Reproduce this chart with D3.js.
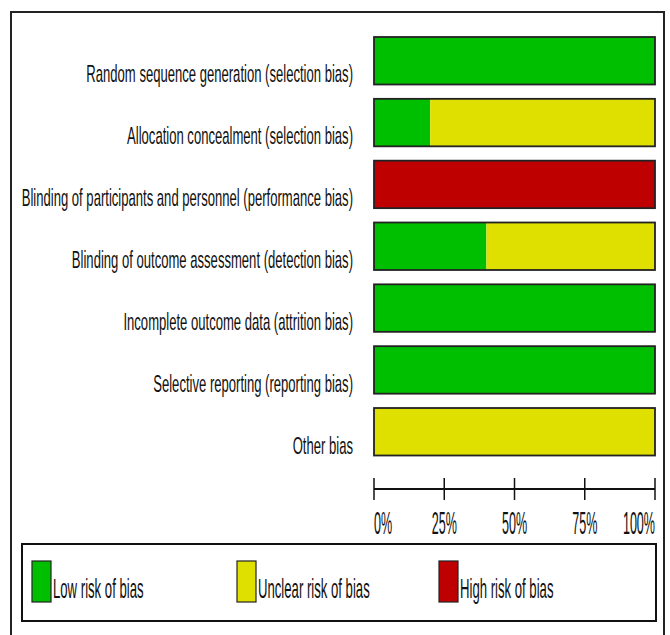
<!DOCTYPE html>
<html>
<head>
<meta charset="utf-8">
<script src="https://cdn.jsdelivr.net/npm/d3@7"></script>
<style>
  body { margin: 0; background: #fff; }
  text { font-family: "Liberation Sans", Arial, sans-serif; fill: #111; }
</style>
</head>
<body>
<div id="chart"></div>
<script>
// risk of bias summary, % of studies per domain
var domains = [
    "Random sequence generation (selection bias)",
    "Allocation concealment (selection bias)",
    "Blinding of participants and personnel (performance bias)",
    "Blinding of outcome assessment (detection bias)",
    "Incomplete outcome data (attrition bias)",
    "Selective reporting (reporting bias)",
    "Other bias"
];
var lowRisk     = [100, 20,   0, 40, 100, 100,   0];
var unclearRisk = [  0, 80,   0, 60,   0,   0, 100];
var highRisk    = [  0,  0, 100,  0,   0,   0,   0];
var tickValues  = [0, 25, 50, 75, 100];
var riskLevels  = ["Low risk of bias", "Unclear risk of bias", "High risk of bias"];

var colors = ["#00bf00", "#e0e000", "#bf0000"];
var keys = ["low", "unclear", "high"];

var width = 670, height = 635;

var svg = d3.select("#chart").append("svg")
    .attr("width", width)
    .attr("height", height);

// outer frame (bottom edge runs off the picture)
svg.append("rect")
    .attr("x", 11).attr("y", 12)
    .attr("width", 653).attr("height", 640)
    .attr("fill", "none")
    .attr("stroke", "#222")
    .attr("stroke-width", 2);

var rows = domains.map(function(d, i) {
    return { domain: d, low: lowRisk[i], unclear: unclearRisk[i], high: highRisk[i] };
});

var x = d3.scaleLinear().domain([0, 100]).range([374, 655]);
var y = d3.scaleBand().domain(domains).range([37, 455.5])
    .paddingInner(0.232).paddingOuter(0);
var color = d3.scaleOrdinal().domain(keys).range(colors);

var stack = d3.stack().keys(keys);
var series = stack(rows);

var layer = svg.append("g").selectAll("g")
    .data(series)
    .enter().append("g")
    .attr("fill", function(d) { return color(d.key); });

layer.selectAll("rect")
    .data(function(d) { return d.filter(function(s) { return s[1] > s[0]; }); })
    .enter().append("rect")
    .attr("x", function(d) { return x(d[0]); })
    .attr("y", function(d) { return y(d.data.domain); })
    .attr("width", function(d) { return x(d[1]) - x(d[0]); })
    .attr("height", y.bandwidth());

// bar outlines
svg.append("g").selectAll("rect")
    .data(domains)
    .enter().append("rect")
    .attr("x", x(0))
    .attr("y", function(d) { return y(d); })
    .attr("width", x(100) - x(0))
    .attr("height", y.bandwidth())
    .attr("fill", "none")
    .attr("stroke", "#222")
    .attr("stroke-width", 1.8);

// domain labels, squeezed sideways like the source
svg.append("g").selectAll("text")
    .data(domains)
    .enter().append("text")
    .attr("text-anchor", "end")
    .attr("font-size", "24px")
    .attr("transform", function(d) {
        return "translate(353," + (y(d) + y.bandwidth() - 2) + ") scale(0.545,1)";
    })
    .text(function(d) { return d; });

// axis
var axisY = 489;
var axis = svg.append("g");
axis.append("line")
    .attr("x1", x(0)).attr("x2", x(100))
    .attr("y1", axisY).attr("y2", axisY)
    .attr("stroke", "#111").attr("stroke-width", 2);
axis.selectAll(".tick")
    .data(tickValues)
    .enter().append("line")
    .attr("class", "tick")
    .attr("x1", function(d) { return x(d); })
    .attr("x2", function(d) { return x(d); })
    .attr("y1", axisY - 11).attr("y2", axisY + 11)
    .attr("stroke", "#111").attr("stroke-width", 1.5);
axis.selectAll(".tickLabel")
    .data(tickValues)
    .enter().append("text")
    .attr("class", "tickLabel")
    .attr("font-size", "31px")
    .attr("text-anchor", function(d, i) {
        return i == 0 ? "start" : (i == tickValues.length - 1 ? "end" : "middle");
    })
    .attr("transform", function(d) {
        return "translate(" + x(d) + ",534) scale(0.405,1)";
    })
    .text(function(d) { return d + "%"; });

// legend
svg.append("rect")
    .attr("x", 22).attr("y", 544)
    .attr("width", 634).attr("height", 77)
    .attr("fill", "none")
    .attr("stroke", "#111")
    .attr("stroke-width", 2);

var legendX = [32, 237, 439];
var legendRow = svg.selectAll(".legendRow")
    .data(riskLevels)
    .enter().append("g")
    .attr("class", "legendRow")
    .attr("transform", function(d, i) { return "translate(" + legendX[i] + ",561)"; });

legendRow.append("rect")
    .attr("width", 19)
    .attr("height", 41)
    .attr("fill", function(d, i) { return colors[i]; })
    .attr("stroke", "#222")
    .attr("stroke-width", 1.2);

legendRow.append("text")
    .attr("font-size", "27px")
    .attr("transform", "translate(21,37) scale(0.487,1)")
    .text(function(d) { return d; });
</script>
</body>
</html>
